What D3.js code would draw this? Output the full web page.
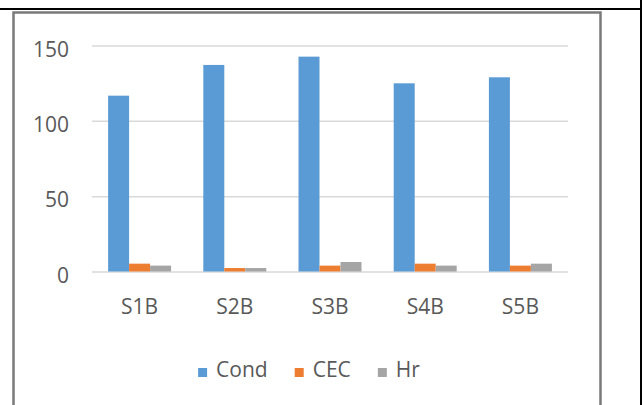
<!DOCTYPE html>
<html>
<head>
<meta charset="utf-8">
<script src="https://cdn.jsdelivr.net/npm/d3@7"></script>
<style>
  html, body { margin: 0; padding: 0; background: #ffffff; }
  svg { display: block; }
  text { font-family: "Open Sans", "Noto Sans", sans-serif; fill: #595959; }
</style>
</head>
<body>
<svg id="chart" width="643" height="405"></svg>
<script>
// Sample sites and measured series
const categories = ["S1B", "S2B", "S3B", "S4B", "S5B"];
const seriesNames = ["Cond", "CEC", "Hr"];
const condValues = [116.7, 137.1, 142.6, 124.9, 128.9];
const cecValues = [5.2, 2.3, 3.9, 5.2, 3.9];
const hrValues = [3.9, 2.3, 6.3, 3.9, 5.2];
const yTicks = [0, 50, 100, 150];
const colors = ["#5B9BD5", "#ED7D31", "#A5A5A5"];

const seriesValues = [condValues, cecValues, hrValues];
const rows = categories.map((c, i) => ({
  category: c,
  values: seriesNames.map((s, k) => ({ series: s, value: seriesValues[k][i] }))
}));

const svg = d3.select("#chart");

// Page borders around the chart
svg.append("line").attr("x1", 0).attr("x2", 642).attr("y1", 9).attr("y2", 9)
  .attr("stroke", "#000").attr("stroke-width", 2);
svg.append("line").attr("x1", 641).attr("x2", 641).attr("y1", 0).attr("y2", 405)
  .attr("stroke", "#000").attr("stroke-width", 2);

// Chart area frame
svg.append("path")
  .attr("d", "M13.5,405 V12.5 H600.5 V405")
  .attr("fill", "none").attr("stroke", "#7a7a7a").attr("stroke-width", 2.5);

const plotLeft = 92, plotRight = 568, plotTop = 45.5, plotBottom = 271.5;

const x0 = d3.scaleBand().domain(categories).range([plotLeft, plotRight]).paddingInner(0).paddingOuter(0);
const x1 = d3.scaleBand().domain(seriesNames).range([0, x0.bandwidth()]).paddingInner(0).paddingOuter(0.767);
const y = d3.scaleLinear().domain([0, 150]).range([plotBottom, plotTop]);
const color = d3.scaleOrdinal().domain(seriesNames).range(colors);

// Horizontal gridlines with value labels
const yAxis = d3.axisLeft(y).tickValues(yTicks).tickSize(-(plotRight - plotLeft)).tickPadding(23);
const gy = svg.append("g").attr("transform", `translate(${plotLeft},0)`).call(yAxis);
gy.select(".domain").remove();
gy.selectAll(".tick line").attr("stroke", "#D9D9D9").attr("stroke-width", 1.5);
gy.selectAll(".tick text")
  .attr("font-size", 21).attr("fill", "#595959")
  .attr("font-family", "\"Open Sans\", sans-serif")
  .attr("dy", "0.5em");

// Grouped bars
const groups = svg.append("g").selectAll("g").data(rows).join("g")
  .attr("transform", d => `translate(${x0(d.category)},0)`);
groups.selectAll("rect").data(d => d.values).join("rect")
  .attr("x", d => x1(d.series))
  .attr("width", x1.bandwidth())
  .attr("y", d => y(d.value))
  .attr("height", d => y(0) - y(d.value))
  .attr("fill", d => color(d.series));

// Category labels
const xAxis = d3.axisBottom(x0).tickSize(0).tickPadding(28);
const gx = svg.append("g").attr("transform", `translate(0,${plotBottom})`).call(xAxis);
gx.select(".domain").remove();
gx.selectAll(".tick text")
  .attr("font-size", 21).attr("fill", "#595959")
  .attr("font-family", "\"Open Sans\", sans-serif");

// Legend, centred under the chart
const legend = svg.append("g");
const items = legend.selectAll("g").data(seriesNames).join("g");
items.append("rect").attr("width", 9).attr("height", 9).attr("y", -9)
  .attr("fill", d => color(d));
items.append("text").attr("x", 18).attr("font-size", 21).text(d => d);
let cursor = 0;
items.each(function () {
  const g = d3.select(this);
  const w = 18 + g.select("text").node().getComputedTextLength();
  g.attr("transform", `translate(${cursor},0)`);
  cursor += w + 27;
});
const legendWidth = cursor - 27;
legend.attr("transform", `translate(${309 - legendWidth / 2},377)`);
</script>
</body>
</html>
